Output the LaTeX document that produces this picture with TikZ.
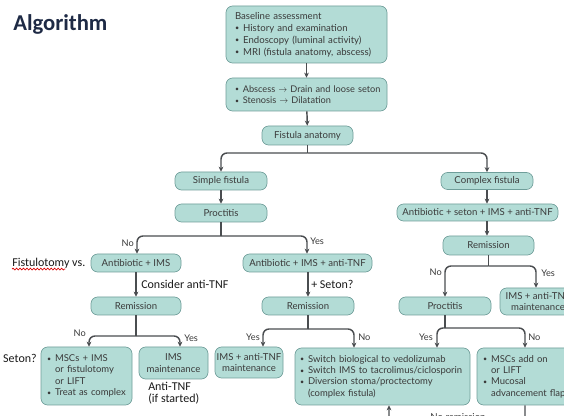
\documentclass[tikz,border=0pt]{standalone}
\usepackage{fontspec}
\setmainfont{Lato}
\newfontfamily\notefont{Carlito}
\usetikzlibrary{arrows.meta,decorations.pathmorphing}

\definecolor{boxfill}{HTML}{B3DCD6}
\definecolor{boxline}{HTML}{6F9E9A}
\definecolor{boxtext}{HTML}{3A3A3A}
\definecolor{linec}{HTML}{4A4D50}
\definecolor{titlec}{HTML}{1E2A45}
\definecolor{notec}{HTML}{1A1A1A}

% small bullet with hanging indent for list boxes; every list line is kept unbroken
\newcommand\bu{\makebox[0.85em][l]{\raisebox{0.1ex}{\scalebox{0.75}{\textbullet}}}}
\newcommand\hg{\hspace*{0.85em}}
\newcommand\bline[1]{\mbox{#1}}
\newcommand\toarrow{\scalebox{0.85}[1]{$\rightarrow$}}

\tikzset{
  % centred box: width and height given in px
  cbox/.style 2 args={draw=boxline, line width=0.5pt, fill=boxfill,
    rounded corners=5pt, inner sep=0pt, align=center,
    minimum width=#1*0.75pt, minimum height=#2*0.75pt,
    text=boxtext, font=\fontsize{7.2}{8.4}\selectfont},
  % list box: width, height and left padding in px
  lbox/.style n args={3}{draw=boxline, line width=0.5pt, fill=boxfill,
    rounded corners=5pt, inner ysep=0pt, inner xsep=#3*0.75pt,
    text width=(#1-2*#3)*0.75pt, align=left,
    minimum height=#2*0.75pt,
    text=boxtext, font=\fontsize{7.1}{8.5}\selectfont},
  line/.style={draw=linec, line width=1.1pt, rounded corners=4.5pt},
  arr/.style={line, -{Stealth[length=3.8pt,width=3.6pt]}},
  lab/.style={text=boxtext, font=\fontsize{6.9}{8}\selectfont, inner sep=0pt},
  note/.style={text=notec, font=\notefont\fontsize{9}{10.5}\selectfont, inner sep=0pt},
}

\begin{document}
\begin{tikzpicture}[x=0.75pt,y=-0.75pt]
\useasboundingbox (0,0) rectangle (564,416);
\clip (0,0) rectangle (564,416);
\fill[white] (0,0) rectangle (564,416);

% heading
\node[anchor=base west, inner sep=0pt, text=titlec,
      font=\notefont\bfseries\fontsize{17}{19}\selectfont] (title) at (13,31) {Algorithm};

% main column
\node[lbox={161}{57}{9}, font=\fontsize{7.2}{9}\selectfont] (base) at (306.5,34.5)
  {\bline{Baseline assessment}\\ \bline{\bu History and examination}\\
   \bline{\bu Endoscopy (luminal activity)}\\ \bline{\bu MRI (fistula anatomy, abscess)}};
\node[lbox={161}{33}{9}, font=\fontsize{6.9}{8.5}\selectfont] (absc) at (306.5,94.5)
  {\bline{\bu Abscess \toarrow\ Drain and loose seton}\\ \bline{\bu Stenosis \toarrow\ Dilatation}};
\node[cbox={91}{19}] (fa) at (307.5,135.5) {Fistula anatomy};

% simple fistula branch
\node[cbox={92}{18}] (sf) at (221,181) {Simple fistula};
\node[cbox={92}{18}] (pr1) at (221,213) {Proctitis};
\node[cbox={90}{18}] (abi) at (136,263) {Antibiotic + IMS};
\node[cbox={129}{18}] (abit) at (307.5,263) {Antibiotic + IMS + anti-TNF};
\node[cbox={90}{18}] (rem1) at (136,306) {Remission};
\node[cbox={92}{18}] (rem2) at (308,306) {Remission};
\node[lbox={91}{58}{6}] (mscL) at (86.5,376)
  {\bline{\bu MSCs + IMS}\\ \bline{\hg or fistulotomy}\\ \bline{\hg or LIFT}\\ \bline{\bu Treat as complex}};
\node[cbox={69}{32}] (imsm) at (173.5,363) {IMS\\ maintenance};
\node[cbox={68}{31}] (imsat) at (249,362.5) {IMS + anti-TNF\\ maintenance};
\node[lbox={175}{57}{5}] (sw) at (382.5,376.5)
  {\bline{\bu Switch biological to vedolizumab}\\ \bline{\bu Switch IMS to tacrolimus/ciclosporin}\\
   \bline{\bu Diversion stoma/proctectomy}\\ \bline{\hg (complex fistula)}};

% complex fistula branch
\node[cbox={92}{17}] (cf) at (487,181) {Complex fistula};
\node[cbox={161}{17}] (abs2) at (477.5,212.5) {Antibiotic + seton + IMS + anti-TNF};
\node[cbox={91}{19}] (rem3) at (488.5,245.5) {Remission};
\node[cbox={92}{18}] (pr2) at (445,306) {Proctitis};
\node[cbox={76}{27}] (imsR) at (538,301.5) {IMS + anti-TNF\\ maintenance};
\node[lbox={96}{57}{6}] (mscR) at (525,376.5)
  {\bline{\bu MSCs add on}\\ \bline{\hg or LIFT}\\ \bline{\bu Mucosal}\\ \bline{\hg advancement flap}};

% split points
\coordinate (faL) at (221,153);   \coordinate (faR) at (487,153);
\coordinate (p1L) at (137,236);   \coordinate (p1R) at (307,236);
\coordinate (r1L) at (89,336);    \coordinate (r1R) at (180,336);
\coordinate (r2L) at (263,329);   \coordinate (r2R) at (354,329);
\coordinate (r3L) at (445,266);   \coordinate (r3R) at (536,266);
\coordinate (p2L) at (437,328);   \coordinate (p2R) at (525,328);
\coordinate (nrL) at (389,424);

% connectors of the main column
\draw[arr] (base) -- (absc);
\draw[arr] (absc) -- (fa);
\draw[line] (fa.south) -- (fa.south |- faL);
\draw[arr] (fa.south |- faL) -- (faL) -- (sf.north);
\draw[arr] (fa.south |- faR) -- (faR) -- (cf.north);

% simple fistula connectors
\draw[arr] (sf) -- (pr1);
\draw[line] (pr1.south) -- (pr1.south |- p1L);
\draw[arr] (pr1.south |- p1L) -- (p1L) -- (p1L |- abi.north);
\draw[arr] (pr1.south |- p1R) -- (p1R) -- (p1R |- abit.north);
\draw[arr] (abi) -- (rem1);
\draw[arr] (abit.south -| rem2) -- (rem2);
\draw[line] (rem1.south) -- (rem1.south |- r1L);
\draw[arr] (rem1.south |- r1L) -- (r1L) -- (r1L |- mscL.north);
\draw[arr] (rem1.south |- r1R) -- (r1R) -- (r1R |- imsm.north);
\draw[line] (rem2.south) -- (rem2.south |- r2L);
\draw[arr] (rem2.south |- r2L) -- (r2L) -- (r2L |- imsat.north);
\draw[arr] (rem2.south |- r2R) -- (r2R) -- (r2R |- sw.north);

% complex fistula connectors
\draw[arr] (cf) -- (cf |- abs2.north);
\draw[arr] (cf |- abs2.south) -- (cf |- rem3.north);
\draw[line] (rem3.south) -- (rem3.south |- r3L);
\draw[arr] (rem3.south |- r3L) -- (r3L) -- (r3L |- pr2.north);
\draw[arr] (rem3.south |- r3R) -- (r3R) -- (r3R |- imsR.north);
\draw[line] (pr2.south) -- (pr2.south |- p2L);
\draw[arr] (pr2.south |- p2L) -- (p2L) -- (p2L |- sw.north);
\draw[arr] (pr2.south |- p2R) -- (p2R) -- (p2R |- mscR.north);
\draw[arr] (mscR.south) |- (nrL) -- (nrL |- sw.south);

% branch labels
\node[lab, anchor=east] (l1) at (134,243) {No};
\node[lab, anchor=west] (l2) at (310,241) {Yes};
\node[lab, anchor=east] (l3) at (86,333) {No};
\node[lab, anchor=west] (l4) at (184,338) {Yes};
\node[lab, anchor=east] (l5) at (260,337) {Yes};
\node[lab, anchor=west] (l6) at (358,337) {No};
\node[lab, anchor=east] (l7) at (442,272) {No};
\node[lab, anchor=west] (l8) at (541,273) {Yes};
\node[lab, anchor=east] (l9) at (433,337) {Yes};
\node[lab, anchor=west] (l10) at (528,337) {No};
\node[lab, font=\fontsize{7.2}{8.5}\selectfont] (nr) at (458,417) {No remission};

% notes written over the chart
\node[note, anchor=west] (n1) at (12,263) {Fistulotomy vs.};
\draw[red!85!black, line width=0.5pt, decorate,
      decoration={snake, amplitude=0.7pt, segment length=2.6pt}]
  ([yshift=-0.5pt]n1.south west) -- ([xshift=40pt,yshift=-0.5pt]n1.south west);
\node[note, anchor=west] (n2) at (141,284) {Consider anti-TNF};
\node[note, anchor=west] (n3) at (311,284) {+ Seton?};
\node[note, anchor=east] (n4) at (37,358) {Seton?};
\node[note, anchor=north west, align=left, font=\notefont\fontsize{9}{9.2}\selectfont] (n5) at (148,382) {Anti-TNF\\(if started)};
\end{tikzpicture}
\end{document}
